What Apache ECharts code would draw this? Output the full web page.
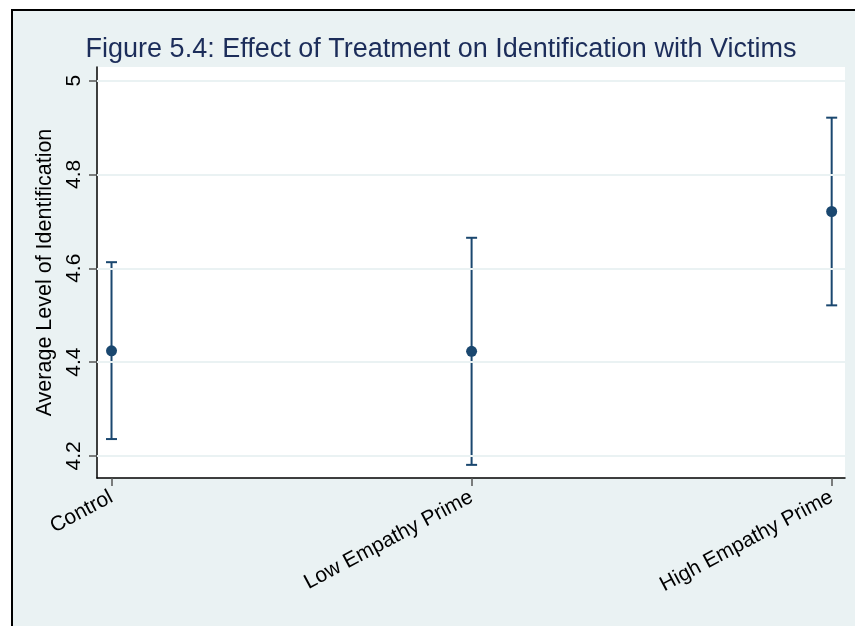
<!DOCTYPE html>
<html><head><meta charset="utf-8">
<script src="https://cdn.jsdelivr.net/npm/echarts@6/dist/echarts.min.js"></script>
<style>html,body{margin:0;padding:0;background:#fff}#c{width:855px;height:626px}</style>
</head><body><div id="c"></div>
<script>
const categories = ['Control', 'Low Empathy Prime', 'High Empathy Prime'];
const means = [4.424, 4.423, 4.721];
const lower = [4.236, 4.181, 4.521];
const upper = [4.613, 4.665, 4.921];
const yTicks = [4.2, 4.4, 4.6, 4.8, 5];
const xTicks = [0, 1, 2];

const navy = '#1a476f';
const chart = echarts.init(document.getElementById('c'), null, {renderer: 'canvas'});
const font = '"Liberation Sans", Arial, Helvetica, sans-serif';

chart.setOption({
  backgroundColor: '#ffffff',
  animation: false,
  graphic: [{
    type: 'rect', z: -10, silent: true,
    shape: {x: 12, y: 10, width: 900, height: 700},
    style: {fill: '#eaf2f3', stroke: '#000', lineWidth: 2}
  }],
  title: {
    text: 'Figure 5.4: Effect of Treatment on Identification with Victims',
    left: 436, top: 31, textAlign: 'center',
    textStyle: {fontFamily: font, fontSize: 27, fontWeight: 'normal', color: '#1c2d5a'}
  },
  grid: {left: 97, right: 10, top: 67, bottom: 148, show: true, backgroundColor: '#fff', borderWidth: 0, containLabel: false},
  xAxis: {
    type: 'value', min: -0.0403, max: 2.037,
    axisLine: {show: true, onZero: false, lineStyle: {color: '#000', width: 1.5}},
    axisTick: {show: true, customValues: xTicks, length: 8, lineStyle: {color: '#555', width: 1.5}},
    axisLabel: {customValues: xTicks, rotate: 28, margin: 18, formatter: v => categories[Math.round(v)] || '',
      fontFamily: font, fontSize: 21, color: '#000'},
    splitLine: {show: false}
  },
  yAxis: {
    type: 'value', min: 4.153, max: 5.029,
    name: 'Average Level of Identification', nameLocation: 'middle', nameGap: 37,
    nameTextStyle: {fontFamily: font, fontSize: 21.5, color: '#000'},
    axisLine: {show: true, onZero: false, lineStyle: {color: '#000', width: 1.5}},
    axisTick: {show: true, customValues: yTicks, length: 8, lineStyle: {color: '#555', width: 1.5}},
    axisLabel: {customValues: yTicks, rotate: 90, margin: 12, formatter: v => String(v),
      fontFamily: font, fontSize: 21, color: '#000'},
    splitLine: {show: false}
  },
  series: [
    {
      type: 'line', data: [], silent: true,
      markLine: {
        silent: true, symbol: 'none', label: {show: false},
        lineStyle: {color: '#eaf2f3', width: 2, type: 'solid'},
        data: yTicks.map(v => ({yAxis: v}))
      }
    },
    {
      type: 'custom',
      data: xTicks.map((x, i) => [x, lower[i], upper[i]]),
      renderItem: function (params, api) {
        const x = api.value(0);
        const lo = api.coord([x, api.value(1)]);
        const hi = api.coord([x, api.value(2)]);
        const hw = 5.5;
        const st = {stroke: navy, lineWidth: 2, fill: 'none'};
        return {type: 'group', children: [
          {type: 'line', shape: {x1: lo[0], y1: lo[1], x2: hi[0], y2: hi[1]}, style: st},
          {type: 'line', shape: {x1: lo[0] - hw, y1: lo[1], x2: lo[0] + hw, y2: lo[1]}, style: st},
          {type: 'line', shape: {x1: hi[0] - hw, y1: hi[1], x2: hi[0] + hw, y2: hi[1]}, style: st}
        ]};
      },
      z: 3
    },
    {
      type: 'scatter', symbol: 'circle', symbolSize: 11,
      itemStyle: {color: navy, opacity: 1},
      data: xTicks.map((x, i) => [x, means[i]]),
      z: 4
    }
  ]
});
</script></body></html>
